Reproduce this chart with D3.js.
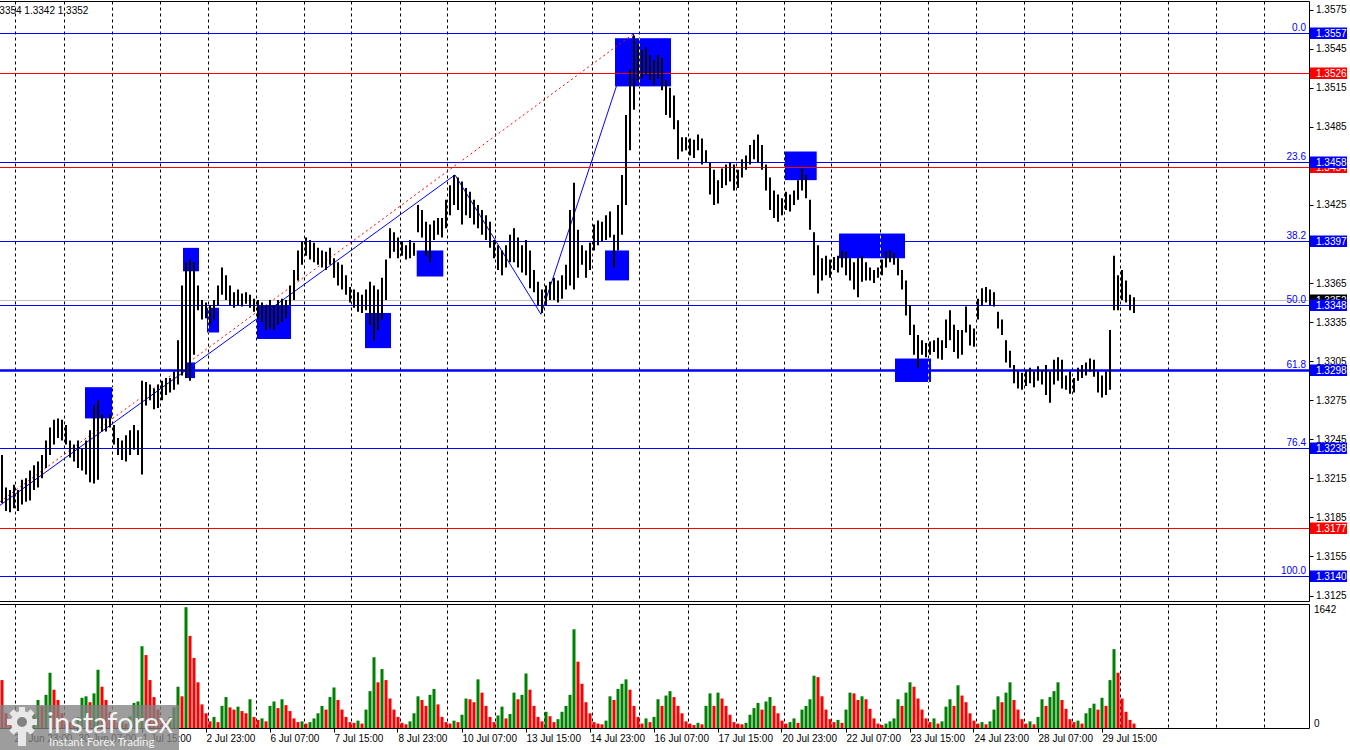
<!DOCTYPE html>
<html><head><meta charset="utf-8">
<script src="https://cdn.jsdelivr.net/npm/d3@7/dist/d3.min.js"></script>
<style>html,body{margin:0;padding:0;background:#fff;overflow:hidden}</style>
</head><body>
<svg id="c" width="1350" height="750" xmlns="http://www.w3.org/2000/svg"></svg>
<script>
// ---------- DATA (2-hour bars, GBPUSD) ----------
const high = [
1.3233,1.3208,1.3206,1.3210,1.3206,1.3214,1.3215,1.3221,1.3225,1.3228,
1.3233,1.3244,1.3254,1.3260,1.3261,1.3260,1.3256,1.3244,1.3241,1.3244,
1.3238,1.3244,1.3252,1.3271,1.3275,1.3264,1.3261,1.3264,1.3256,1.3246,
1.3244,1.3248,1.3252,1.3256,1.3252,1.3290,1.3289,1.3287,1.3284,1.3287,
1.3290,1.3292,1.3292,1.3297,1.3321,1.3363,1.3381,1.3383,1.3381,1.3363,
1.3352,1.3350,1.3348,1.3352,1.3363,1.3377,1.3371,1.3363,1.3358,1.3360,
1.3357,1.3358,1.3356,1.3353,1.3352,1.3350,1.3348,1.3352,1.3348,1.3352,
1.3353,1.3352,1.3363,1.3375,1.3390,1.3397,1.3400,1.3398,1.3396,1.3392,
1.3390,1.3389,1.3392,1.3384,1.3381,1.3379,1.3371,1.3362,1.3360,1.3358,
1.3356,1.3360,1.3366,1.3363,1.3360,1.3369,1.3383,1.3407,1.3404,1.3400,
1.3397,1.3394,1.3398,1.3396,1.3425,1.3421,1.3412,1.3410,1.3413,1.3415,
1.3415,1.3429,1.3440,1.3448,1.3446,1.3443,1.3438,1.3435,1.3429,1.3425,
1.3421,1.3417,1.3412,1.3398,1.3394,1.3390,1.3394,1.3402,1.3407,1.3400,
1.3394,1.3398,1.3390,1.3375,1.3366,1.3360,1.3363,1.3366,1.3369,1.3367,
1.3371,1.3379,1.3421,1.3442,1.3406,1.3394,1.3390,1.3396,1.3410,1.3413,
1.3412,1.3417,1.3420,1.3402,1.3425,1.3448,1.3494,1.3529,
1.3555,1.3548,1.3544,1.3546,1.3540,1.3536,1.3540,1.3538,1.3521,1.3515,
1.3509,1.3490,1.3477,1.3477,1.3476,1.3475,1.3479,1.3476,1.3467,1.3458,
1.3452,1.3444,1.3453,1.3456,1.3458,1.3456,1.3452,1.3460,1.3463,1.3471,
1.3475,1.3479,1.3471,1.3456,1.3446,1.3436,1.3433,1.3430,1.3435,1.3433,
1.3436,1.3444,1.3453,1.3448,1.3429,1.3404,1.3394,1.3384,1.3386,1.3383,
1.3385,1.3386,1.3390,1.3389,1.3384,1.3381,1.3384,1.3386,1.3381,1.3377,
1.3375,1.3377,1.3383,1.3389,1.3390,1.3388,1.3384,1.3375,1.3367,1.3348,
1.3333,1.3325,1.3321,1.3319,1.3320,1.3321,1.3323,1.3321,1.3337,1.3344,
1.3333,1.3329,1.3329,1.3347,1.3333,1.3330,1.3353,1.3361,1.3362,1.3360,
1.3358,1.3343,1.3337,1.3321,1.3313,1.3302,1.3297,1.3296,1.3298,1.3300,
1.3297,1.3301,1.3298,1.3302,1.3297,1.3306,1.3308,1.3306,1.3294,1.3297,
1.3292,1.3300,1.3302,1.3304,1.3307,1.3306,1.3297,1.3294,1.3297,1.3329,
1.3386,1.3371,1.3375,1.3367,1.3356,1.3354];
const low = [
1.3196,1.3190,1.3189,1.3192,1.3190,1.3195,1.3197,1.3198,1.3206,1.3208,
1.3215,1.3223,1.3233,1.3241,1.3246,1.3244,1.3241,1.3231,1.3228,1.3223,
1.3221,1.3218,1.3212,1.3211,1.3214,1.3251,1.3251,1.3254,1.3241,1.3233,
1.3229,1.3228,1.3233,1.3237,1.3233,1.3218,1.3271,1.3275,1.3268,1.3269,
1.3275,1.3279,1.3281,1.3283,1.3287,1.3294,1.3292,1.3290,1.3310,1.3344,
1.3337,1.3338,1.3333,1.3337,1.3348,1.3356,1.3352,1.3348,1.3346,1.3348,
1.3347,1.3349,1.3346,1.3343,1.3338,1.3335,1.3329,1.3330,1.3329,1.3333,
1.3335,1.3338,1.3348,1.3352,1.3367,1.3379,1.3386,1.3383,1.3381,1.3379,
1.3377,1.3375,1.3379,1.3369,1.3363,1.3360,1.3356,1.3350,1.3346,1.3343,
1.3342,1.3344,1.3333,1.3321,1.3329,1.3337,1.3352,1.3384,1.3389,1.3384,
1.3386,1.3383,1.3384,1.3386,1.3404,1.3400,1.3386,1.3381,1.3398,1.3402,
1.3400,1.3407,1.3417,1.3425,1.3421,1.3410,1.3417,1.3415,1.3410,1.3407,
1.3402,1.3398,1.3392,1.3384,1.3375,1.3371,1.3377,1.3381,1.3381,1.3377,
1.3373,1.3371,1.3361,1.3358,1.3348,1.3342,1.3348,1.3352,1.3352,1.3350,
1.3353,1.3360,1.3363,1.3360,1.3369,1.3379,1.3369,1.3375,1.3390,1.3394,
1.3397,1.3398,1.3400,1.3377,1.3390,1.3402,1.3425,1.3467,
1.3498,1.3521,1.3522,1.3525,1.3521,1.3517,1.3522,1.3513,1.3494,1.3492,
1.3483,1.3460,1.3466,1.3467,1.3463,1.3461,1.3467,1.3456,1.3458,1.3433,
1.3425,1.3426,1.3438,1.3440,1.3443,1.3436,1.3438,1.3446,1.3452,1.3456,
1.3460,1.3458,1.3452,1.3436,1.3421,1.3415,1.3412,1.3417,1.3421,1.3420,
1.3425,1.3429,1.3436,1.3430,1.3406,1.3371,1.3357,1.3367,1.3371,1.3369,
1.3375,1.3373,1.3377,1.3371,1.3367,1.3360,1.3354,1.3366,1.3367,1.3367,
1.3365,1.3369,1.3371,1.3377,1.3381,1.3379,1.3371,1.3360,1.3340,1.3325,
1.3310,1.3300,1.3310,1.3308,1.3310,1.3312,1.3307,1.3306,1.3315,1.3321,
1.3312,1.3307,1.3310,1.3327,1.3317,1.3316,1.3337,1.3348,1.3350,1.3348,
1.3347,1.3330,1.3325,1.3304,1.3300,1.3288,1.3284,1.3283,1.3286,1.3288,
1.3285,1.3290,1.3287,1.3279,1.3273,1.3287,1.3290,1.3284,1.3283,1.3280,
1.3281,1.3290,1.3292,1.3294,1.3297,1.3293,1.3281,1.3277,1.3279,1.3283,
1.3344,1.3344,1.3352,1.3350,1.3344,1.3342];
const volume = [
650,200,120,90,80,110,150,130,200,380,
300,450,750,520,380,200,120,80,60,150,
410,430,350,470,790,560,380,220,120,70,
90,60,160,340,360,1110,990,650,420,250,
120,90,150,280,560,430,1640,1250,950,620,
320,200,90,150,80,300,420,280,250,290,
230,200,390,150,110,130,90,300,360,270,
390,310,230,130,80,90,60,80,130,200,
300,250,420,550,380,250,150,80,70,100,
60,250,500,960,620,800,650,400,250,150,
70,50,90,200,430,380,300,450,530,320,
150,80,60,100,80,180,400,390,350,660,
480,300,150,80,170,290,130,190,480,390,
450,740,520,300,150,90,220,160,80,120,
220,300,450,1340,900,600,350,200,80,60,
50,100,430,380,530,600,660,520,300,150,
60,130,80,150,390,300,440,500,420,300,
200,90,60,40,70,50,300,470,300,480,
400,300,180,80,60,50,70,180,270,340,
250,360,420,300,200,100,60,80,130,70,
250,300,390,710,690,430,250,120,80,110,
70,250,480,470,380,430,390,260,130,60,
40,60,90,130,390,300,480,620,560,400,
250,130,80,130,60,90,290,390,300,580,
440,350,200,100,60,80,50,90,250,430,
350,480,620,380,250,120,60,90,50,150,
390,300,420,500,620,380,260,120,80,100,
60,200,270,330,250,410,300,650,1070,750,
400,220,110,60];
const volumeMax = 1642;
const headerText = "1.3354 1.3342 1.3352";

const fibLabels = ["0.0","23.6","38.2","50.0","61.8","76.4","100.0"];
const fibPrices = [1.3557,1.3458,1.3397,1.3348,1.3298,1.3238,1.3140];
const redPrices = [1.3526,1.3454,1.3177];
const bidPrice = 1.3352;
const priceTicks = [1.3125,1.3155,1.3185,1.3215,1.3245,1.3275,1.3305,1.3335,1.3365,1.3395,1.3425,1.3455,1.3485,1.3515,1.3545,1.3575];

// hours counted from first visible hour (H1 index)
const timeLabels = ["26 Jun 23:00","30 Jun 07:00","1 Jul 15:00","2 Jul 23:00","6 Jul 07:00","7 Jul 15:00","8 Jul 23:00","10 Jul 07:00","13 Jul 15:00","14 Jul 23:00","16 Jul 07:00","17 Jul 15:00","20 Jul 23:00","22 Jul 07:00","23 Jul 15:00","24 Jul 23:00","28 Jul 07:00","29 Jul 15:00"];
const timeLabelHours = timeLabels.map((_,k)=>6+32*k);
const dayStartHours = d3.range(7, 640, 24);

const zigHours = [-10, 226.75, 269.75, 316.25];
const zigPrices = [1.3184, 1.3448, 1.3341, 1.3557];
const fibLineHours = [-51, 316.5];
const fibLinePrices = [1.3140, 1.3557];

// rectangle objects: start/end hour, top/bottom price
const boxH1 = [41.75, 90.75, 102.75, 91.75, 127.75, 181.75, 207.6, 301.75, 306.75, 391.75, 418.75, 446.75];
const boxH2 = [55.75, 98.75, 108.75, 96.75, 144.75, 194.75, 220.9, 313.75, 334.75, 407.6, 451.75, 464.75];
const boxP1 = [1.3285, 1.3392, 1.3346, 1.3304, 1.3348, 1.3342, 1.3390, 1.3390, 1.3553, 1.3466, 1.3403, 1.3307];
const boxP2 = [1.3261, 1.3374, 1.3327, 1.3292, 1.3322, 1.3315, 1.3370, 1.3367, 1.3516, 1.3444, 1.3384, 1.3289];

// ---------- LAYOUT ----------
const svg = d3.select('#c');
const FONT = "'Liberation Sans', Arial, sans-serif";
const BLUE = "#0000ff", RED = "#ff0000", GREEN = "#008000";
const plotR = 1309.5, pTop = 1.5, pBot = 601.5, vTop = 604.5, vBot = 728.5;
const x = d3.scaleLinear().domain([0, 568]).range([1.5, 1137.5]);
const y = d3.scaleLinear().domain([1.3140, 1.3557]).range([576, 33]);
const yv = d3.scaleLinear().domain([0, volumeMax]).range([728, 607]);
const barHour = high.map((_, i) => 2 * i + 0.25);

svg.append('rect').attr('width', 1350).attr('height', 750).attr('fill', '#fff');
const defs = svg.append('defs');
defs.append('clipPath').attr('id', 'pc').append('rect').attr('x', 0).attr('y', pTop).attr('width', plotR).attr('height', pBot - pTop);
defs.append('clipPath').attr('id', 'vc').append('rect').attr('x', 0).attr('y', vTop).attr('width', plotR).attr('height', vBot - vTop);
const boxClip = defs.append('clipPath').attr('id', 'bc');
boxH1.forEach((h, i) => {
  boxClip.append('rect').attr('x', x(h)).attr('y', y(boxP1[i])).attr('width', x(boxH2[i]) - x(h)).attr('height', y(boxP2[i]) - y(boxP1[i]));
});

const gp = svg.append('g').attr('clip-path', 'url(#pc)');
// rectangles
gp.selectAll('rect.box').data(boxH1).join('rect').attr('class', 'box')
  .attr('x', d => x(d)).attr('y', (d, i) => y(boxP1[i]))
  .attr('width', (d, i) => x(boxH2[i]) - x(d)).attr('height', (d, i) => y(boxP2[i]) - y(boxP1[i]))
  .attr('fill', BLUE);
// grid
gp.selectAll('line.g').data(dayStartHours).join('line').attr('class', 'g')
  .attr('x1', d => Math.round(x(d)) + 0.5).attr('x2', d => Math.round(x(d)) + 0.5)
  .attr('y1', pTop).attr('y2', pBot).attr('stroke', '#000').attr('stroke-dasharray', '3,3');
gp.append('g').attr('clip-path', 'url(#bc)').selectAll('line').data(dayStartHours).join('line')
  .attr('x1', d => Math.round(x(d)) + 0.5).attr('x2', d => Math.round(x(d)) + 0.5)
  .attr('y1', pTop).attr('y2', pBot).attr('stroke', '#ffff00').attr('stroke-dasharray', '3,3');
// horizontal levels
gp.append('line').attr('x1', 0).attr('x2', plotR).attr('y1', Math.round(y(bidPrice)) + 0.5).attr('y2', Math.round(y(bidPrice)) + 0.5).attr('stroke', '#c0c0c0');
redPrices.forEach(p => gp.append('line').attr('x1', 0).attr('x2', plotR).attr('y1', Math.round(y(p)) + 0.5).attr('y2', Math.round(y(p)) + 0.5).attr('stroke', RED));
fibPrices.forEach((p, i) => gp.append('line').attr('x1', 0).attr('x2', plotR)
  .attr('y1', Math.round(y(p)) + 0.5).attr('y2', Math.round(y(p)) + 0.5)
  .attr('stroke', BLUE).attr('stroke-width', fibLabels[i] === "61.8" ? 2.5 : 1));
// fib trend line (red dotted) and zigzag
gp.append('line').attr('x1', x(fibLineHours[0])).attr('y1', y(fibLinePrices[0]))
  .attr('x2', x(fibLineHours[1])).attr('y2', y(fibLinePrices[1]))
  .attr('stroke', RED).attr('stroke-dasharray', '2,3');
gp.append('path').datum(zigHours.map((h, i) => [h, zigPrices[i]]))
  .attr('d', d3.line().x(d => x(d[0])).y(d => y(d[1])))
  .attr('fill', 'none').attr('stroke', BLUE).attr('stroke-width', 1);
// price bars
gp.selectAll('line.bar').data(high).join('line').attr('class', 'bar')
  .attr('x1', (d, i) => x(barHour[i])).attr('x2', (d, i) => x(barHour[i]))
  .attr('y1', d => y(d)).attr('y2', (d, i) => y(low[i]))
  .attr('stroke', '#000').attr('stroke-width', 2);
// fib labels
svg.selectAll('text.fib').data(fibLabels).join('text').attr('class', 'fib')
  .attr('x', 1306).attr('y', (d, i) => Math.round(y(fibPrices[i])) - 2)
  .attr('text-anchor', 'end').attr('font-family', FONT).attr('font-size', 10).attr('fill', BLUE).text(d => d);

// volume pane
const gv = svg.append('g').attr('clip-path', 'url(#vc)');
gv.selectAll('line.g').data(dayStartHours).join('line').attr('class', 'g')
  .attr('x1', d => Math.round(x(d)) + 0.5).attr('x2', d => Math.round(x(d)) + 0.5)
  .attr('y1', vTop).attr('y2', vBot).attr('stroke', '#000').attr('stroke-dasharray', '3,3');
gv.selectAll('rect.v').data(volume).join('rect').attr('class', 'v')
  .attr('x', (d, i) => x(barHour[i]) - 1.5).attr('width', 3)
  .attr('y', d => yv(d)).attr('height', d => yv(0) - yv(d))
  .attr('fill', (d, i) => (i > 0 && d > volume[i - 1]) ? GREEN : RED);

// frames
const fr = svg.append('g').attr('stroke', '#000').attr('fill', 'none');
fr.append('line').attr('x1', 0).attr('x2', plotR).attr('y1', pTop).attr('y2', pTop);
fr.append('line').attr('x1', 0).attr('x2', plotR).attr('y1', pBot).attr('y2', pBot);
fr.append('line').attr('x1', 0).attr('x2', plotR).attr('y1', vTop).attr('y2', vTop);
fr.append('line').attr('x1', 0).attr('x2', plotR).attr('y1', vBot).attr('y2', vBot);
fr.append('line').attr('x1', plotR).attr('x2', plotR).attr('y1', pTop).attr('y2', pBot);
fr.append('line').attr('x1', plotR).attr('x2', plotR).attr('y1', vTop).attr('y2', vBot);

// price axis
const ax = svg.append('g');
ax.selectAll('line').data(priceTicks).join('line')
  .attr('x1', plotR).attr('x2', plotR + 4).attr('y1', d => Math.round(y(d)) + 0.5).attr('y2', d => Math.round(y(d)) + 0.5).attr('stroke', '#000');
ax.selectAll('text').data(priceTicks).join('text')
  .attr('x', 1316).attr('y', d => y(d)).attr('dy', '0.35em')
  .attr('font-family', FONT).attr('font-size', 10).attr('fill', '#000').text(d => d.toFixed(4));
// price label boxes
const boxes = [{p: bidPrice, c: '#000'}]
  .concat(redPrices.map(p => ({p, c: RED})))
  .concat(fibPrices.map(p => ({p, c: BLUE})));
const lb = svg.append('g');
boxes.forEach(b => {
  const yy = Math.round(y(b.p));
  lb.append('rect').attr('x', 1310).attr('y', yy - 5.5).attr('width', 37).attr('height', 11.5).attr('fill', b.c);
  lb.append('text').attr('x', 1316).attr('y', yy).attr('dy', '0.36em').attr('font-family', FONT).attr('font-size', 10).attr('fill', '#fff').text(b.p.toFixed(4));
});

// volume axis
svg.append('text').attr('x', 1314).attr('y', yv(volumeMax)).attr('dy', '0.6em').attr('font-family', FONT).attr('font-size', 10).text(volumeMax);
svg.append('text').attr('x', 1314).attr('y', yv(0)).attr('dy', '-0.1em').attr('font-family', FONT).attr('font-size', 10).text('0');

// time axis
const ta = svg.append('g');
ta.selectAll('line').data(timeLabelHours).join('line')
  .attr('x1', d => Math.round(x(d)) + 0.5).attr('x2', d => Math.round(x(d)) + 0.5)
  .attr('y1', vBot).attr('y2', vBot + 4).attr('stroke', '#000');
ta.selectAll('text').data(timeLabels).join('text')
  .attr('x', (d, i) => x(timeLabelHours[i]) + 1).attr('y', 742)
  .attr('font-family', FONT).attr('font-size', 10).attr('fill', '#000').text(d => d);

// header
svg.append('text').attr('x', -9).attr('y', 14).attr('font-family', FONT).attr('font-size', 10).attr('fill', '#000').text(headerText);

// watermark logo
const lg = svg.append('g');
lg.append('rect').attr('x', 0).attr('y', 705).attr('width', 179).attr('height', 45).attr('fill', 'rgb(130,130,130)').attr('opacity', 0.78);
const gear = lg.append('g').attr('transform', 'translate(22,722)').attr('fill', '#e8e8e8');
d3.range(8).forEach(k => gear.append('rect').attr('x', -3).attr('y', -15).attr('width', 6).attr('height', 6).attr('transform', `rotate(${k * 45})`));
gear.append('circle').attr('r', 11).attr('fill', '#e8e8e8');
gear.append('circle').attr('r', 5).attr('fill', 'rgb(130,130,130)');
lg.append('rect').attr('x', 18).attr('y', 730).attr('width', 8).attr('height', 16).attr('fill', '#e8e8e8');
lg.append('text').attr('x', 47).attr('y', 733).attr('font-family', "Lato, 'Open Sans', sans-serif").attr('font-size', 29).attr('fill', '#f2f2f2').text('instaforex');
lg.append('text').attr('x', 49).attr('y', 746).attr('font-family', "Lato, 'Open Sans', sans-serif").attr('font-size', 11.5).attr('fill', '#f2f2f2').text('Instant Forex Trading');
</script>
</body></html>
